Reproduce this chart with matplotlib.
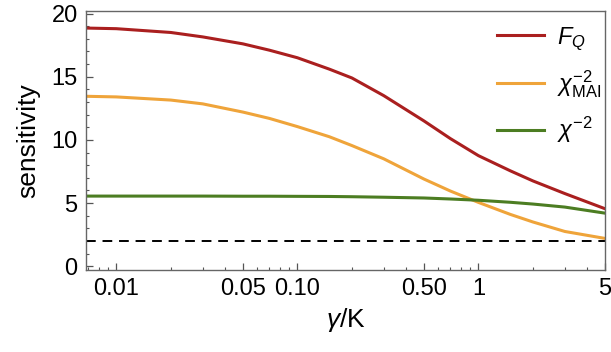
import matplotlib.pyplot as plt
from matplotlib.ticker import FixedLocator, NullFormatter, MultipleLocator

plt.rcParams['font.family'] = ['Liberation Sans', 'DejaVu Sans']
plt.rcParams['mathtext.fontset'] = 'custom'
plt.rcParams['mathtext.rm'] = 'Liberation Sans'
plt.rcParams['mathtext.it'] = 'Liberation Sans:italic'

## data
gamma = [0.0068, 0.01, 0.02, 0.03, 0.05, 0.07, 0.1, 0.15, 0.2, 0.3, 0.5, 0.7, 1, 1.5, 2, 3, 5]
fq = [18.85, 18.8, 18.5, 18.15, 17.6, 17.1, 16.5, 15.6, 14.9, 13.5, 11.5, 10.1, 8.75, 7.55, 6.75, 5.75, 4.55]
chi_mai = [13.45, 13.4, 13.15, 12.85, 12.2, 11.7, 11.05, 10.25, 9.55, 8.5, 6.9, 5.95, 5.05, 4.1, 3.5, 2.75, 2.2]
chi = [5.55, 5.55, 5.55, 5.55, 5.54, 5.54, 5.53, 5.52, 5.5, 5.46, 5.4, 5.32, 5.22, 5.06, 4.92, 4.68, 4.2]
bound = 2

major_x = [0.01, 0.05, 0.1, 0.5, 1, 5]
major_x_labels = ['0.01', '0.05', '0.10', '0.50', '1', '5']

fig = plt.figure(figsize=(6.11, 3.52), dpi=100)
ax = fig.add_axes([86 / 611, 82 / 352, 519 / 611, 259 / 352])

ax.plot(gamma, fq, color='#AA1F1F', lw=2.2, label=r'$F_Q$')
ax.plot(gamma, chi_mai, color='#EFA43A', lw=2.2, label=r'$\chi_{\mathrm{MAI}}^{-2}$')
ax.plot(gamma, chi, color='#4C7D22', lw=2.2, label=r'$\chi^{-2}$')
ax.axhline(bound, color='black', lw=1.4, ls=(0, (5, 3.5)))

ax.set_xscale('log')
ax.set_xlim(0.0068, 5)
ax.set_ylim(-0.3, 20.2)

## ticks
ax.xaxis.set_major_locator(FixedLocator(major_x))
ax.set_xticklabels(major_x_labels)
minor = []
for dec in [0.001, 0.01, 0.1, 1]:
    for k in range(2, 10):
        minor.append(dec * k)
ax.xaxis.set_minor_locator(FixedLocator(minor))
ax.xaxis.set_minor_formatter(NullFormatter())
ax.yaxis.set_major_locator(MultipleLocator(5))
ax.yaxis.set_minor_locator(MultipleLocator(1))
ax.tick_params(which='both', direction='in', top=False, right=False,
               labelsize=17, color='#555555', pad=6)
ax.tick_params(which='major', length=5, width=0.9)
ax.tick_params(which='minor', length=2.5, width=0.8)
for s in ax.spines.values():
    s.set_color('#666666')
    s.set_linewidth(1)

ax.set_xlabel(r'$\gamma/\mathrm{K}$', fontsize=19, labelpad=4)
ax.set_ylabel('sensitivity', fontsize=19, labelpad=8)

ax.legend(loc='upper right', bbox_to_anchor=(1.02, 1.0), frameon=False,
          fontsize=17, handlelength=2.0, handletextpad=0.55,
          labelspacing=0.65, borderaxespad=0.2)

fig.savefig('out.png', dpi=100)
